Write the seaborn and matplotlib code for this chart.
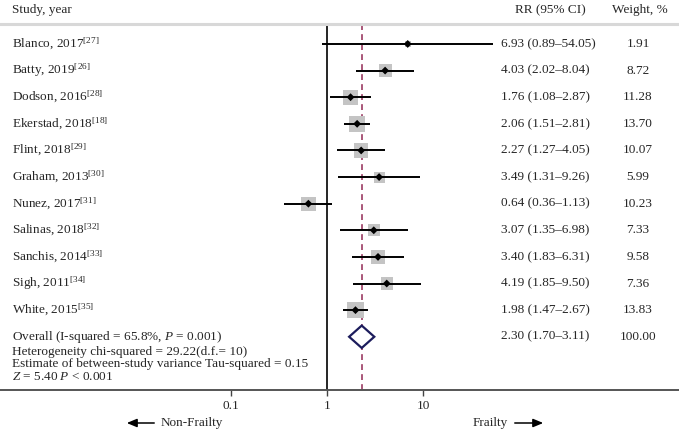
import numpy as np
import pandas as pd
import matplotlib
matplotlib.use("Agg")
import matplotlib.pyplot as plt
import matplotlib.transforms as mtransforms
from matplotlib.patches import Polygon, FancyArrowPatch
import seaborn as sns

# ---- data ----
studies = ["Blanco, 2017", "Batty, 2019", "Dodson, 2016", "Ekerstad, 2018", "Flint, 2018",
           "Graham, 2013", "Nunez, 2017", "Salinas, 2018", "Sanchis, 2014", "Sigh, 2011",
           "White, 2015"]
refs = ["27", "26", "28", "18", "29", "30", "31", "32", "33", "34", "35"]
rr = [6.93, 4.03, 1.76, 2.06, 2.27, 3.49, 0.64, 3.07, 3.40, 4.19, 1.98]
ci_low = [0.89, 2.02, 1.08, 1.51, 1.27, 1.31, 0.36, 1.35, 1.83, 1.85, 1.47]
ci_high = [54.05, 8.04, 2.87, 2.81, 4.05, 9.26, 1.13, 6.98, 6.31, 9.50, 2.67]
weights = [1.91, 8.72, 11.28, 13.70, 10.07, 5.99, 10.23, 7.33, 9.58, 7.36, 13.83]
overall_rr, overall_low, overall_high, overall_weight = 2.30, 1.70, 3.11, 100.00
tick_values = [0.1, 1, 10]
tick_labels = ["0.1", "1", "10"]

sns.set_theme(style="white")
plt.rcParams["font.family"] = ["Liberation Serif", "DejaVu Serif"]
plt.rcParams["mathtext.fontset"] = "custom"
plt.rcParams["mathtext.rm"] = "Liberation Serif"
plt.rcParams["mathtext.it"] = "Liberation Serif:italic"

FS = 9.5
W, H = 679, 434
fig = plt.figure(figsize=(W / 100, H / 100), dpi=100)
ax = fig.add_axes([0, 44 / H, 1, 366 / H])

n = len(studies)
df = pd.DataFrame({"study": studies, "rr": rr, "lo": ci_low, "hi": ci_high,
                   "weight": weights, "row": np.arange(n)})

# CI lines
ax.hlines(df["row"], df["lo"], df["hi"], color="black", lw=1.4, zorder=2)
# weight squares (area proportional to weight)
side_max = 16.5 * 0.72  # points for weight 13.70
sns.scatterplot(data=df, x="rr", y="row", size="weight", sizes=(0, side_max ** 2 * 13.83 / 13.70),
                size_norm=(0, 13.83), marker="s", color="#c4c4c4", edgecolor="none",
                legend=False, ax=ax, zorder=1)
# point estimates
sns.scatterplot(data=df, x="rr", y="row", marker="D", s=16, color="black",
                edgecolor="none", legend=False, ax=ax, zorder=3)

# reference lines
ax.axvline(1, color="black", lw=1.2, zorder=0)
ax.axvline(overall_rr, color="#9b3b62", lw=1.2, ls=(0, (3.5, 2.5)), zorder=0)

# overall diamond
orow = n
dh = 0.42
diamond = Polygon([[overall_low, orow], [overall_rr, orow - dh], [overall_high, orow],
                   [overall_rr, orow + dh]], closed=True, facecolor="white",
                  edgecolor="#1c1c5c", lw=1.6, zorder=4)
ax.add_patch(diamond)

ax.set_xscale("log")
ax.set_xlim(10 ** (-327 / 96), 10 ** (352 / 96))
ax.set_ylim(13.0, -0.75)
ax.set_xticks(tick_values)
ax.set_xticklabels(tick_labels)
ax.minorticks_off()
ax.set_yticks([])
ax.set_xlabel("")
ax.set_ylabel("")
ax.tick_params(axis="x", direction="out", length=4, width=1, color="#444444",
               labelsize=FS, pad=3, bottom=True)
for side in ["left", "right"]:
    ax.spines[side].set_visible(False)
ax.spines["bottom"].set_color("#555555")
ax.spines["bottom"].set_linewidth(1.4)
ax.spines["top"].set_color("#d8d8d8")
ax.spines["top"].set_linewidth(2.2)

trans = mtransforms.blended_transform_factory(fig.transFigure, ax.transData)

# headers
fig.text(12 / W, 1 - 10 / H, "Study, year", fontsize=FS, va="center", ha="left")
fig.text(550 / W, 1 - 10 / H, "RR (95% CI)", fontsize=FS, va="center", ha="center")
fig.text(640 / W, 1 - 10 / H, "Weight, %", fontsize=FS, va="center", ha="center")

for i in range(n):
    ax.text(12 / W, i, studies[i] + r"$^{[" + refs[i] + r"]}$", transform=trans,
            fontsize=FS, va="center", ha="left")
    ax.text(501 / W, i, f"{rr[i]:.2f} ({ci_low[i]:.2f}\u2013{ci_high[i]:.2f})",
            transform=trans, fontsize=FS, va="center", ha="left")
    ax.text(638 / W, i, f"{weights[i]:.2f}", transform=trans, fontsize=FS,
            va="center", ha="center")

ax.text(12 / W, orow, r"Overall (I-squared = 65.8%, $\mathit{P}$ = 0.001)", transform=trans,
        fontsize=FS, va="center", ha="left")
ax.text(501 / W, orow, f"{overall_rr:.2f} ({overall_low:.2f}\u2013{overall_high:.2f})",
        transform=trans, fontsize=FS, va="center", ha="left")
ax.text(638 / W, orow, f"{overall_weight:.2f}", transform=trans, fontsize=FS,
        va="center", ha="center")

fig.text(12 / W, 1 - 352 / H, "Heterogeneity chi-squared = 29.22(d.f.= 10)", fontsize=FS,
         va="center", ha="left")
fig.text(12 / W, 1 - 364.5 / H, "Estimate of between-study variance Tau-squared = 0.15",
         fontsize=FS, va="center", ha="left")
fig.text(12 / W, 1 - 377 / H, r"$\mathit{Z}$ = 5.40 $\mathit{P}$ < 0.001", fontsize=FS,
         va="center", ha="left")

# direction labels
fig.text(161 / W, 1 - 423 / H, "Non-Frailty", fontsize=FS, va="center", ha="left")
fig.text(508 / W, 1 - 423 / H, "Frailty", fontsize=FS, va="center", ha="right")
fig.add_artist(FancyArrowPatch((157 / W, 1 - 423 / H), (124 / W, 1 - 423 / H),
               transform=fig.transFigure, mutation_scale=10,
               arrowstyle="-|>,head_length=0.6,head_width=0.25", color="black", lw=1.1))
fig.add_artist(FancyArrowPatch((512 / W, 1 - 423 / H), (546 / W, 1 - 423 / H),
               transform=fig.transFigure, mutation_scale=10,
               arrowstyle="-|>,head_length=0.6,head_width=0.25", color="black", lw=1.1))

fig.savefig("out.png", dpi=100)
